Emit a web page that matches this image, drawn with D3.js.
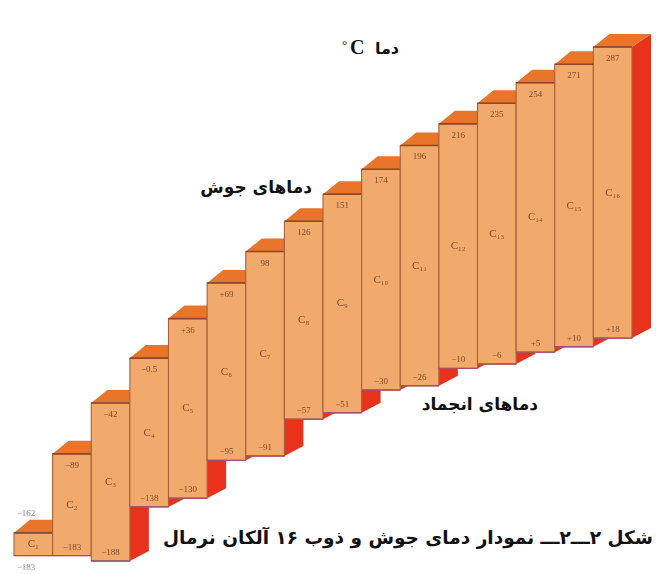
<!DOCTYPE html>
<html><head><meta charset="utf-8">
<script src="https://cdn.jsdelivr.net/npm/d3@7"></script>
<style>html,body{margin:0;background:#fff}svg{display:block}</style></head>
<body><svg id="c" width="656" height="574"></svg>
<script>
const categories=["1","2","3","4","5","6","7","8","9","10","11","12","13","14","15","16"];
const boiling=[-162,-89,-42,-0.5,36,69,98,126,151,174,196,216,235,254,271,287];
const melting=[-183,-183,-188,-138,-130,-95,-91,-57,-51,-30,-26,-10,-6,5,10,18];
const boilLabels=["−162","−89","−42","−0.5","+36","+69","98","126","151","174","196","216","235","254","271","287"];
const meltLabels=["−183","−183","−188","−138","−130","−95","−91","−57","−51","−30","−26","−10","−6","+5","+10","+18"];
const subs=["₁","₂","₃","₄","₅","₆","₇","₈","₉","₁₀","₁₁","₁₂","₁₃","₁₄","₁₅","₁₆"];

const svg=d3.select("#c");
const defs=svg.append("defs");
defs.append("filter").attr("id","b").append("feGaussianBlur").attr("stdDeviation",0.7);
defs.append("filter").attr("id","bs").append("feGaussianBlur").attr("stdDeviation",0.6);

const x=d3.scaleBand().domain(categories).range([14,632]).padding(0);
const y=d3.scaleLinear().domain([-188,287]).range([561,47]);
const dx=19,dy=-13;
const w=x.bandwidth();

const g=svg.append("g").attr("filter","url(#bs)");
categories.forEach((c,i)=>{
  const l=x(c),r=l+w,t=y(boiling[i]),b=y(melting[i]);
  const n=g.append("g");
  n.append("path").attr("d",`M${r},${t}L${r+dx},${t+dy}L${r+dx},${b+dy+3}L${r},${b}Z`).attr("fill","#e8331f");
  n.append("path").attr("d",`M${l},${t}L${l+dx-3},${t+dy}L${r+dx},${t+dy}L${r},${t}Z`).attr("fill","#e8742a");
  n.append("rect").attr("x",l).attr("y",t).attr("width",w).attr("height",b-t)
    .attr("fill","#f2aa6c").attr("stroke","#a8603a").attr("stroke-width",1.1);
  n.append("line").attr("x1",l).attr("x2",r).attr("y1",t).attr("y2",t).attr("stroke","#8f4a2c").attr("stroke-width",1.6);
  n.append("line").attr("x1",l).attr("x2",r).attr("y1",b).attr("y2",b).attr("stroke","#a5506a").attr("stroke-width",1.4);
});

const lab=svg.append("g").attr("filter","url(#b)").attr("fill","#7a4a2c")
  .attr("font-family","'Liberation Serif',serif").attr("text-anchor","middle").attr("font-size",9);
categories.forEach((c,i)=>{
  const cx=x(c)+w/2,t=y(boiling[i]),b=y(melting[i]);
  lab.append("text").attr("x",cx).attr("y",(t+b)/2+3).attr("font-size",11).text("C"+subs[i]);
  if(i===0){
    lab.append("text").attr("x",x(c)+12).attr("y",t-17).attr("fill","#8a8a98").text(boilLabels[i]);
    lab.append("text").attr("x",x(c)+12).attr("y",b+14).attr("fill","#8a8a98").text(meltLabels[i]);
  }else{
    lab.append("text").attr("x",cx).attr("y",t+14).text(boilLabels[i]);
    lab.append("text").attr("x",cx).attr("y",b-6).text(meltLabels[i]);
  }
});

const T=svg.append("g").attr("fill","#111").attr("font-weight","bold").attr("font-family","'DejaVu Sans',sans-serif");
const tx=(px,py,s,fs)=>T.append("text").attr("x",px).attr("y",py).attr("font-size",fs).attr("text-anchor","start").attr("direction","rtl").text(s);
T.append("text").attr("x",350).attr("y",54).attr("font-size",20).attr("font-family","'Liberation Serif',serif").text("C");
T.append("text").attr("x",342).attr("y",49).attr("font-size",13).attr("font-weight","normal").attr("font-family","'Liberation Serif',serif").text("°");
tx(399,54,"دما",16);
tx(312,193,"دماهای جوش",17);
tx(538,410,"دماهای انجماد",17);
tx(653,544,"شکل ۲ـــ۲ـــ نمودار دمای جوش و ذوب ۱۶ آلکان نرمال",18.5);
</script></body></html>
